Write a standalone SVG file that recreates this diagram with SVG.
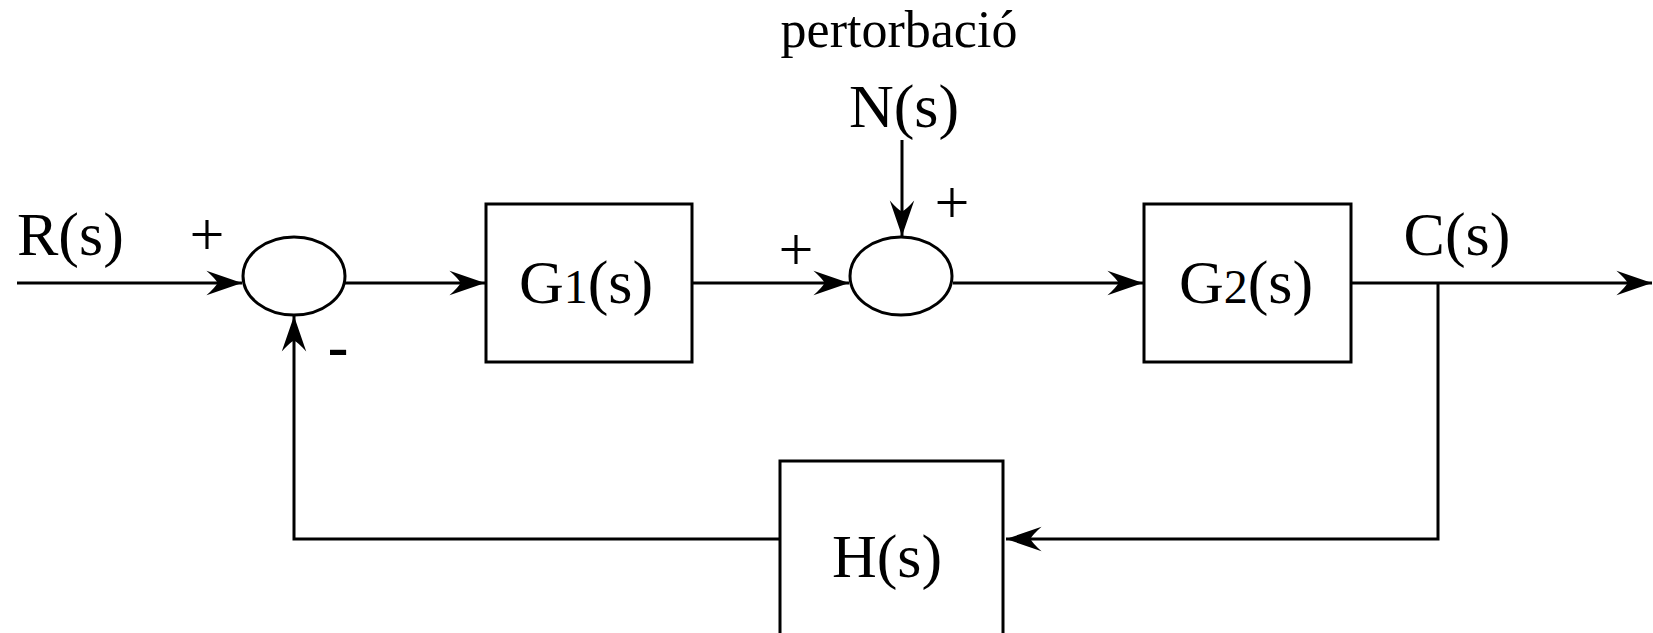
<svg xmlns="http://www.w3.org/2000/svg" width="1653" height="633" viewBox="0 0 1653 633">
<style>
.ln{fill:none;stroke:#000;stroke-width:3}
.bx{fill:#fff;stroke:#000;stroke-width:3}
.t{font-family:"Liberation Serif","Times New Roman",serif;fill:#000}
.big{font-size:62px}
.mid{font-size:52px}
</style>
<defs>
<marker id="arr" markerUnits="userSpaceOnUse" markerWidth="40" markerHeight="30" viewBox="-34 -13 36 26" refX="0" refY="0" orient="auto">
<path d="M0,0 L-32,-11 Q-24,-4 -22,0 Q-24,4 -32,11 Z" fill="#000"/>
</marker>
</defs>
<rect width="1653" height="633" fill="#fff"/>
<g id="connectors">
<line class="ln" x1="17" y1="283" x2="242" y2="283" marker-end="url(#arr)"/>
<line class="ln" x1="345" y1="283" x2="485" y2="283" marker-end="url(#arr)"/>
<line class="ln" x1="692" y1="283" x2="849" y2="283" marker-end="url(#arr)"/>
<line class="ln" x1="902" y1="140" x2="902" y2="236" marker-end="url(#arr)"/>
<line class="ln" x1="953" y1="283" x2="1143" y2="283" marker-end="url(#arr)"/>
<line class="ln" x1="1351" y1="283" x2="1652" y2="283" marker-end="url(#arr)"/>
<polyline class="ln" points="1438,283 1438,539 1006,539" marker-end="url(#arr)"/>
<polyline class="ln" points="780,539 294,539 294,316" marker-end="url(#arr)"/>
</g>
<g id="sum1"><ellipse class="bx" cx="294" cy="276" rx="51" ry="39"/></g>
<g id="sum2"><ellipse class="bx" cx="901" cy="276" rx="51" ry="39"/></g>
<g id="G1"><rect class="bx" x="486" y="204" width="206" height="158"/>
<text class="t big" x="586" y="303" text-anchor="middle">G<tspan font-size="48px">1</tspan>(s)</text></g>
<g id="G2"><rect class="bx" x="1144" y="204" width="207" height="158"/>
<text class="t big" x="1246" y="303" text-anchor="middle">G<tspan font-size="48px">2</tspan>(s)</text></g>
<g id="H"><rect class="bx" x="780" y="461" width="223" height="200"/>
<text class="t big" x="887" y="577" text-anchor="middle">H(s)</text></g>
<g id="labels">
<text class="t big" x="17" y="255">R(s)</text>
<text class="t big" x="207" y="255" text-anchor="middle">+</text>
<text class="t big" x="796" y="270" text-anchor="middle">+</text>
<text class="t big" x="952" y="223" text-anchor="middle">+</text>
<text class="t big" x="338" y="367" text-anchor="middle" font-weight="bold">-</text>
<text class="t mid" x="899" y="47" text-anchor="middle">pertorbació</text>
<text class="t big" x="904" y="127" text-anchor="middle">N(s)</text>
<text class="t big" x="1457" y="255" text-anchor="middle">C(s)</text>
</g>
</svg>
